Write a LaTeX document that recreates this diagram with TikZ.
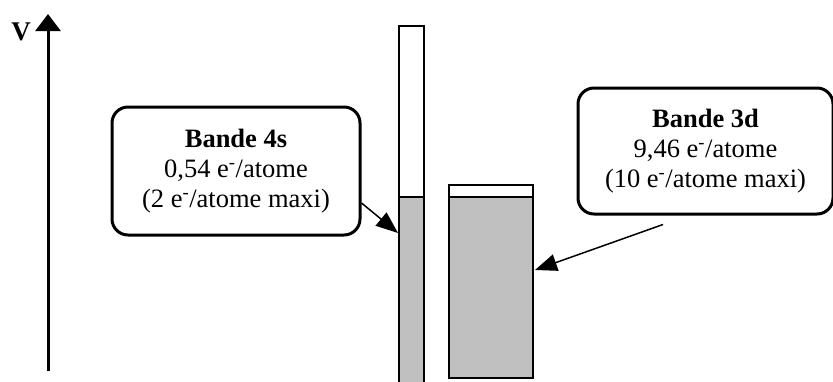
\documentclass[tikz,border=0pt]{standalone}
\usepackage{fontspec}
\setmainfont{Liberation Serif}
\usetikzlibrary{arrows.meta}
\definecolor{barfill}{RGB}{192,192,192}
\begin{document}
\begin{tikzpicture}[x=1pt,y=-1pt,
  lbl/.style={draw, line width=3pt, rounded corners=16pt, align=center,
    font=\fontsize{26.5}{30}\selectfont, inner sep=0pt},
  barbox/.style={draw, line width=1.6pt},
  ptr/.style={line width=1.5pt, -{Triangle[length=22pt,width=17pt]}}]
\useasboundingbox (0,0) rectangle (833,381);
% axis
\coordinate (ax0) at (48,371);
\coordinate (ax1) at (48,14);
\draw[line width=3pt,-{Triangle[length=17pt,width=25pt]}] (ax0) -- (ax1);
\node[font=\bfseries\fontsize{27}{27}\selectfont, inner sep=0pt] (vlab) at (21,32) {V};
% bars
\draw[barbox, fill=white] (399,26) rectangle (424,392);
\draw[barbox, fill=barfill] (399,197) rectangle (424,392);
\draw[barbox, fill=white] (449,185) rectangle (533,378);
\draw[barbox, fill=barfill] (449,197) rectangle (533,378);
\coordinate (t4s) at (398,233);
\coordinate (t3d) at (535,270);
% boxes
\node[lbl, minimum width=248pt, minimum height=128pt] (b4s) at (236,171)
  {\textbf{Bande 4s}\\0,54 e\textsuperscript{-}/atome\\(2 e\textsuperscript{-}/atome maxi)};
\node[lbl, minimum width=255pt, minimum height=126pt] (b3d) at (705.5,151)
  {\textbf{Bande 3d}\\9,46 e\textsuperscript{-}/atome\\(10 e\textsuperscript{-}/atome maxi)};
% pointers
\draw[ptr] ([yshift=-32pt]b4s.east) -- (t4s);
\draw[ptr] ([xshift=-42.5pt,yshift=-9pt]b3d.south) -- (t3d);
\end{tikzpicture}
\end{document}
